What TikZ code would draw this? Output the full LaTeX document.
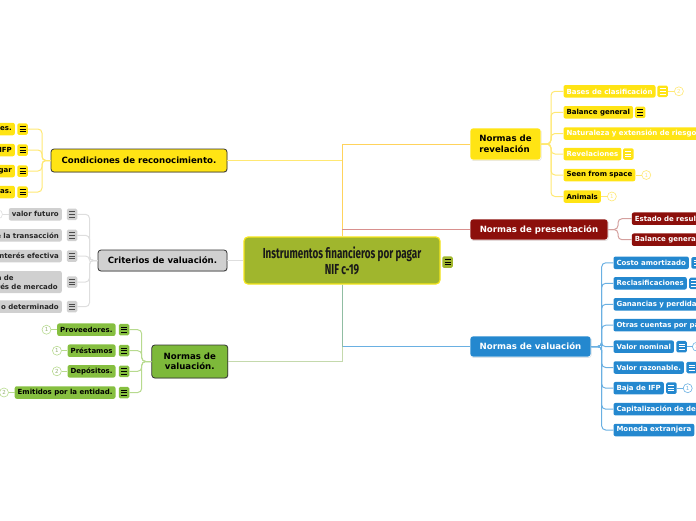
\documentclass[tikz,border=0pt]{standalone}
\usepackage{fontspec}
\setmainfont{DejaVu Sans}
\newfontfamily\titlefont[FakeStretch=0.68]{Fira Sans}
\usetikzlibrary{shadows,calc}
\definecolor{ybr}{HTML}{FFE414}
\definecolor{yconn}{HTML}{FFE873}
\definecolor{gbr}{HTML}{7DB93A}
\definecolor{gchild}{HTML}{86BF40}
\definecolor{gconn}{HTML}{B7DA8E}
\definecolor{graybr}{HTML}{D0D0D0}
\definecolor{grayconn}{HTML}{DEDEDE}
\definecolor{rbr}{HTML}{8C0F0B}
\definecolor{rconn}{HTML}{D4A09E}
\definecolor{bbr}{HTML}{2488CF}
\definecolor{bconn}{HTML}{6AB0E2}
\definecolor{ctr}{HTML}{A0B62D}
\definecolor{ctrb}{HTML}{F5E51C}
\begin{document}
\begin{tikzpicture}[x=1pt,y=-1pt,
  branch/.style={rounded corners=3pt, font=\bfseries\fontsize{8.6}{10.5}\selectfont, inner sep=0pt,
    drop shadow={opacity=0.25, shadow xshift=0.6pt, shadow yshift=-0.9pt}},
  lbranch/.style={branch, draw=black!80, line width=0.8pt, text=black},
  rbranch/.style={branch, draw=white, line width=0.6pt},
  leaf/.style={rounded corners=2pt, font=\bfseries\fontsize{7}{8}\selectfont, inner xsep=3pt, inner ysep=0pt, minimum height=12.5pt},
  lclip/.style={text width=#1, align=right},
  rclip/.style={text width=#1, align=left},
  yleaf/.style={leaf, fill=ybr, text=black},
  yleafw/.style={leaf, fill=ybr, text=white},
  gleaf/.style={leaf, fill=gchild, text=black},
  grleaf/.style={leaf, fill=graybr, text=black!85},
  bleaf/.style={leaf, fill=bbr, text=white},
  rleaf/.style={leaf, fill=rbr, text=white},
  noteicon/.style={rounded corners=1.5pt, minimum width=10.5pt, minimum height=11.5pt, inner sep=0pt,
    path picture={\foreach \d in {-2.6,0,2.6}
      \draw[line width=0.75pt, #1] ([xshift=-3pt,yshift=\d pt]path picture bounding box.center) -- ([xshift=3pt,yshift=\d pt]path picture bounding box.center);}},
  yicon/.style={noteicon=black, fill=ybr},
  yiconw/.style={noteicon=white, fill=ybr},
  gicon/.style={noteicon=black, fill=gchild},
  gricon/.style={noteicon=black!70, fill=graybr},
  bicon/.style={noteicon=white, fill=bbr},
  num/.style={circle, draw, fill=white, inner sep=0pt, minimum size=9pt, line width=0.6pt, font=\fontsize{5.5}{6}\selectfont},
  conn/.style={line width=1pt, rounded corners=4pt},
  yc/.style={conn, draw=yconn},
  gc/.style={conn, draw=gconn},
  grc/.style={conn, draw=grayconn},
  rc/.style={conn, draw=rconn},
  bc/.style={conn, draw=bconn}]
\useasboundingbox (0,0) rectangle (696,520);
\clip (0,0) rectangle (696,520);

% ---------- root ----------
\node[rounded corners=4pt, fill=ctr, draw=ctrb, line width=1.2pt, minimum width=196pt, minimum height=47pt,
  align=center, font=\titlefont\bfseries\fontsize{14.5}{16}\selectfont, text=black!90] (root) at (342,260.5)
  {Instrumentos financieros por pagar\\NIF c-19};
\node[noteicon=black, fill=ctr] (rooti) at (447.5,262) {};

% ---------- main branches ----------
\node[lbranch, fill=ybr, minimum width=176pt, minimum height=23pt] (cond) at (139,160.5) {Condiciones de reconocimiento.};
\node[lbranch, fill=graybr, minimum width=129pt, minimum height=21pt] (crit) at (162.5,260.5) {Criterios de valuación.};
\node[lbranch, fill=gbr, minimum width=76pt, minimum height=33pt, align=center] (nvl) at (189.8,361.5) {Normas de\\valuación.};
\node[rbranch, fill=ybr, minimum width=71pt, minimum height=32pt, align=left, text=black] (rev) at (505.5,144) {Normas de\\revelación};
\node[rbranch, fill=rbr, minimum width=138pt, minimum height=21pt, text=white] (pres) at (539,229.5) {Normas de presentación};
\node[rbranch, fill=bbr, minimum width=121pt, minimum height=21pt, text=white] (val) at (530.5,346.5) {Normas de valuación};

% root connectors
\draw[line width=1pt, draw=yconn] (cond.east) -- (cond.east -| root.north);
\draw[line width=1pt, draw=yconn!80!orange] (root.north) |- (rev.west);
\draw[line width=1pt, draw=rconn!90!red] (pres.west) -- (pres.west -| root.north);
\draw[line width=1pt, draw=grayconn] (crit.east) -- (root.west);
\draw[line width=1pt, draw=bconn] (root.south) |- (val.west);
\draw[line width=1pt, draw=gconn!90!black, opacity=0.65] (root.south) |- (nvl.east);

% ---------- Condiciones children ----------
\node[yleaf, anchor=east, lclip=40pt] (c1) at (15,129) {es.};
\node[yleaf, anchor=east, lclip=40pt] (c2) at (15,150) {IFP};
\node[yleaf, anchor=east, lclip=40pt] (c3) at (15,171) {gar};
\node[yleaf, anchor=east, lclip=40pt] (c4) at (15,192) {as.};
\foreach \i/\y in {1/129,2/150,3/171,4/192} \node[yicon] (ic\i) at (22.5,\y) {};
\coordinate (cb) at (42,160.5);
\foreach \i in {1,...,4} \draw[yc] (ic\i.east) -| (cb) -- (cond.west);

% ---------- Criterios children ----------
\node[grleaf, anchor=east] (k1) at (62,214.3) {valor futuro};
\node[grleaf, anchor=east, lclip=80pt] (k2) at (62,235.3) {e la transacción};
\node[grleaf, anchor=east, lclip=80pt] (k3) at (62,256) {nterés efectiva};
\node[grleaf, anchor=east, text width=62pt, align=left, minimum height=22pt, font=\bfseries\fontsize{7}{9}\selectfont] (k4) at (62,282) {a de\\rés de mercado};
\node[grleaf, anchor=east, lclip=80pt] (k5) at (62,306.7) {o determinado};
\foreach \i/\y in {1/214.3,2/235.3,3/256,4/282,5/306.7} \node[gricon] (ik\i) at (72,\y) {};
\coordinate (kb) at (89.5,260.5);
\foreach \i in {1,...,5} \draw[grc] (ik\i.east) -| (kb) -- (crit.west);
\node[num, draw=grayconn] (kn) at (-2,214.3) {};
\draw[grc] (kn) -- (k1);

% ---------- Normas de valuación (left) children ----------
\node[gleaf, anchor=east] (n1) at (115.7,329.7) {Proveedores.};
\node[gleaf, anchor=east] (n2) at (115.7,350.7) {Préstamos};
\node[gleaf, anchor=east] (n3) at (115.7,371.3) {Depósitos.};
\node[gleaf, anchor=east] (n4) at (115.7,392.5) {Emitidos por la entidad.};
\foreach \i/\y in {1/329.7,2/350.7,3/371.3,4/392.5} \node[gicon] (in\i) at (124,\y) {};
\coordinate (nb) at (141.7,361.5);
\foreach \i in {1,...,4} \draw[gc] (in\i.east) -| (nb) -- (nvl.west);
\foreach \i/\n in {1/1,2/1,3/2,4/2} {
  \node[num, draw=gconn, text=gconn!80!black] (nn\i) at ([xshift=-10.5pt]n\i.west) {\n};
  \draw[gc] (nn\i) -- (n\i);
}

% ---------- Normas de revelación children ----------
\node[yleafw, anchor=west] (r1) at (563.3,91.3) {Bases de clasificación};
\node[yleaf, anchor=west] (r2) at (563.3,112.3) {Balance general};
\node[yleafw, anchor=west, rclip=160pt] (r3) at (563.3,133.5) {Naturaleza y extensión de riesgo};
\node[yleafw, anchor=west] (r4) at (563.3,154) {Revelaciones};
\node[yleaf, anchor=west] (r5) at (563.3,175) {Seen from space};
\node[yleaf, anchor=west] (r6) at (563.3,196.5) {Animals};
\coordinate (rb) at (551,144);
\foreach \i in {1,...,6} \draw[yc] (rev.east) -- (rb) |- (r\i.west);
\node[yiconw, anchor=west] (ir1) at ([xshift=1.5pt]r1.east) {};
\node[yicon, anchor=west] (ir2) at ([xshift=1.5pt]r2.east) {};
\node[yiconw, anchor=west] (ir4) at ([xshift=1.5pt]r4.east) {};
\node[num, draw=yconn, text=yconn, anchor=west] (rn1) at ([xshift=6pt]ir1.east) {2};
\node[num, draw=yconn, text=yconn, anchor=west] (rn5) at ([xshift=6pt]r5.east) {1};
\node[num, draw=yconn, text=yconn, anchor=west] (rn6) at ([xshift=6pt]r6.east) {1};
\draw[yc] (ir1) -- (rn1);
\draw[yc] (r5) -- (rn5);
\draw[yc] (r6) -- (rn6);

% ---------- Normas de presentación children ----------
\node[rleaf, anchor=west, rclip=90pt] (p1) at (631.7,218.7) {Estado de result};
\node[rleaf, anchor=west, rclip=90pt] (p2) at (631.7,239.7) {Balance general};
\coordinate (pb) at (618,229.5);
\foreach \i in {1,2} \draw[rc] (pres.east) -- (pb) |- (p\i.west);

% ---------- Normas de valuación (right) children ----------
\node[bleaf, anchor=west] (v1) at (613.3,262.8) {Costo amortizado};
\node[bleaf, anchor=west] (v2) at (613.3,283.3) {Reclasificaciones};
\node[bleaf, anchor=west, rclip=110pt] (v3) at (613.3,304.3) {Ganancias y perdida};
\node[bleaf, anchor=west, rclip=110pt] (v4) at (613.3,325.2) {Otras cuentas por pa};
\node[bleaf, anchor=west] (v5) at (613.3,346.7) {Valor nominal};
\node[bleaf, anchor=west] (v6) at (613.3,367.5) {Valor razonable.};
\node[bleaf, anchor=west] (v7) at (613.3,388.2) {Baja de IFP};
\node[bleaf, anchor=west, rclip=110pt] (v8) at (613.3,409.2) {Capitalización de de};
\node[bleaf, anchor=west] (v9) at (613.3,430) {Moneda extranjera};
\coordinate (vb) at (601.7,346.5);
\foreach \i in {1,...,9} \draw[bc] (val.east) -- (vb) |- (v\i.west);
\foreach \i in {1,2,5,6,7} \node[bicon, anchor=west] (iv\i) at ([xshift=2pt]v\i.east) {};
\node[num, draw=bconn, text=bconn, anchor=west] (vn5) at ([xshift=5pt]iv5.east) {1};
\node[num, draw=bconn, text=bconn, anchor=west] (vn7) at ([xshift=6pt]iv7.east) {1};
\draw[bc] (iv5) -- (vn5);
\draw[bc] (iv7) -- (vn7);
\end{tikzpicture}
\end{document}
